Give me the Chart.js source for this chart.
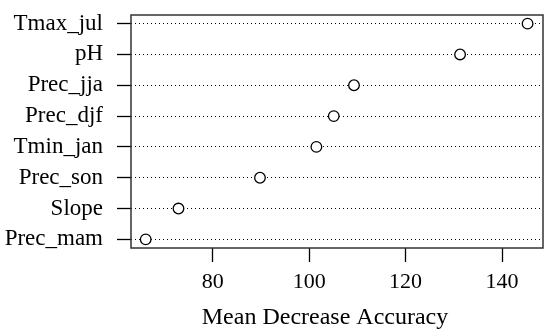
<!DOCTYPE html>
<html>
<head>
<meta charset="utf-8">
<script src="https://cdn.jsdelivr.net/npm/chart.js@4.4.1/dist/chart.umd.min.js"></script>
<style>
  html, body { margin: 0; padding: 0; background: #fff; }
  #wrap { width: 550px; height: 332px; }
</style>
</head>
<body>
<div id="wrap"><canvas id="chart"></canvas></div>
<script>
// variables, bottom to top (as the dotchart draws them)
const variables = ['Prec_mam', 'Slope', 'Prec_son', 'Tmin_jan', 'Prec_djf', 'Prec_jja', 'pH', 'Tmax_jul'];
const accuracy  = [66.1, 72.9, 89.8, 101.5, 105.1, 109.3, 131.3, 145.3];
const xTicks    = [80, 100, 120, 140];

const SERIF = '"Liberation Serif", "Times New Roman", serif';

// frame round the plot area
const boxPlugin = {
  id: 'box',
  afterDraw(chart) {
    const { ctx, chartArea: a } = chart;
    ctx.save();
    ctx.strokeStyle = '#333';
    ctx.lineWidth = 1.5;
    ctx.strokeRect(a.left, a.top, a.right - a.left, a.bottom - a.top);
    ctx.restore();
  }
};

new Chart(document.getElementById('chart'), {
  type: 'scatter',
  data: {
    datasets: [{
      data: accuracy.map((v, i) => ({ x: v, y: i + 1 })),
      pointStyle: 'circle',
      pointRadius: 5.3,
      pointHoverRadius: 5.3,
      pointBackgroundColor: '#fff',
      pointBorderColor: '#000',
      pointBorderWidth: 1.3,
    }]
  },
  options: {
    responsive: true,
    maintainAspectRatio: false,
    animation: false,
    layout: { padding: { left: 0, right: 7, top: 15, bottom: 0 } },
    plugins: { legend: { display: false }, tooltip: { enabled: false } },
    scales: {
      x: {
        min: 63.05,
        max: 148.5,
        afterBuildTicks: s => { s.ticks = xTicks.map(v => ({ value: v })); },
        afterFit: s => { s.height = 84; s.paddingLeft = 0; s.paddingRight = 0; },
        grid: { drawOnChartArea: false, drawTicks: true, tickLength: 14, tickColor: '#000', tickWidth: 1.3 },
        border: { display: false },
        ticks: { color: '#000', font: { family: SERIF, size: 22 }, padding: 7, maxRotation: 0 },
        // trailing nbsp nudges the centred title a little left, as in the original
        title: { display: true, text: 'Mean Decrease Accuracy\u00a0\u00a0\u00a0\u00a0', color: '#000', font: { family: SERIF, size: 24 }, padding: { top: 0, bottom: 0 } },
      },
      y: {
        min: 0.72,
        max: 8.28,
        afterBuildTicks: s => { s.ticks = variables.map((_, i) => ({ value: i + 1 })); },
        afterFit: s => { s.width = 131; s.paddingTop = 0; s.paddingBottom = 0; },
        grid: { color: '#000', lineWidth: 1, drawTicks: true, tickLength: 14, tickColor: '#000', tickWidth: 1.3, tickBorderDash: [] },
        border: { display: false, dash: [1, 3] },
        ticks: { color: '#000', font: { family: SERIF, size: 23 }, padding: 14, callback: v => variables[v - 1] },
      }
    }
  },
  plugins: [boxPlugin]
});
</script>
</body>
</html>
